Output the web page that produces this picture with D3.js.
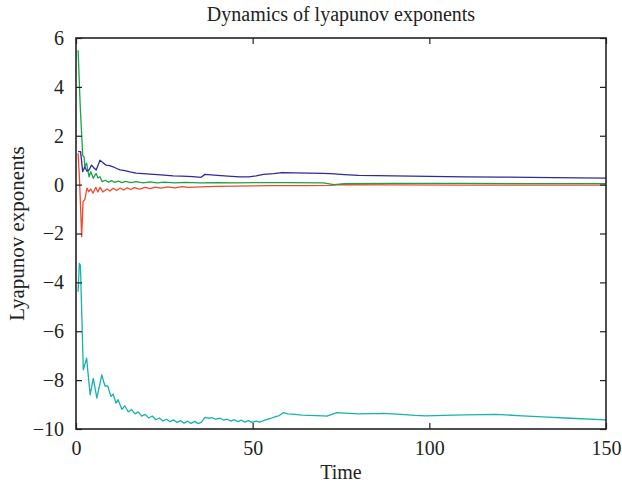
<!DOCTYPE html>
<html>
<head>
<meta charset="utf-8">
<script src="https://cdn.jsdelivr.net/npm/d3@7"></script>
<style>
  body { margin: 0; background: #fff; }
  svg text { font-family: "Liberation Serif", "DejaVu Serif", serif; fill: #222; }
</style>
</head>
<body>
<svg id="chart" width="622" height="487"></svg>
<script>
// Lyapunov exponents, as [time, value]
const blueSeries = [
  [0.6, 1.35], [1.3, 1.35], [1.9, 0.53], [2.5, 0.73], [3.1, 0.55], [3.7, 0.6], [4.4, 0.8],
  [5.1, 0.68], [5.7, 0.6], [6.8, 1.0], [7.6, 0.9], [8.5, 0.8], [9.5, 0.78], [10.5, 0.73],
  [11.5, 0.66], [12.5, 0.6], [13.5, 0.58], [15.3, 0.52], [17, 0.47], [19, 0.45], [21, 0.43],
  [24, 0.4], [27.5, 0.36], [30, 0.35], [33, 0.33], [35.4, 0.3], [36.5, 0.42], [40, 0.38],
  [43, 0.35], [46.4, 0.32], [49, 0.32], [51, 0.36], [53, 0.42], [56, 0.45], [58.2, 0.49],
  [62, 0.48], [66, 0.47], [70, 0.46], [72, 0.45], [76, 0.41], [80, 0.38], [90, 0.36],
  [100, 0.34], [110, 0.32], [120, 0.31], [135, 0.29], [150, 0.27]
];

const greenSeries = [
  [0.6, 5.5], [1.2, 3.2], [1.9, 1.2], [2.3, 1.13], [2.5, 0.73], [3.0, 0.88], [3.7, 0.32],
  [4.2, 0.53], [4.9, 0.26], [5.4, 0.4], [5.7, 0.46], [6.2, 0.27], [6.8, 0.32], [7.4, 0.12],
  [8.3, 0.18], [9.2, 0.1], [10.1, 0.16], [11, 0.09], [12, 0.14], [13, 0.08], [14, 0.13],
  [15.5, 0.08], [17, 0.12], [19, 0.07], [21, 0.11], [23, 0.07], [25, 0.1], [28, 0.07],
  [31, 0.09], [35, 0.07], [40, 0.08], [45, 0.07], [50, 0.08], [60, 0.08], [70, 0.07],
  [73, 0.0], [76, 0.04], [90, 0.05], [110, 0.05], [130, 0.04], [150, 0.04]
];

const redSeries = [
  [0.6, 1.28], [1.0, 0.2], [1.6, -2.13], [2.0, -0.7], [2.5, -0.6], [3.1, -0.14], [3.6, -0.29],
  [4.2, -0.18], [4.8, -0.35], [5.6, -0.11], [6.2, -0.3], [6.8, -0.11], [7.6, -0.3],
  [8.8, -0.18], [9.6, -0.26], [10.5, -0.15], [11.5, -0.24], [12.5, -0.14], [13.5, -0.22],
  [14.5, -0.13], [15.5, -0.2], [16.5, -0.12], [18, -0.18], [19.5, -0.11], [21, -0.16],
  [22.5, -0.1], [24, -0.14], [26, -0.09], [28, -0.13], [30, -0.08], [32, -0.11], [35, -0.09],
  [40, -0.07], [45, -0.06], [50, -0.05], [55, -0.04], [65, -0.04], [72, -0.03], [75, 0.0],
  [90, -0.01], [110, -0.02], [130, -0.02], [150, -0.02]
];

const tealSeries = [
  [0.6, -4.38], [0.95, -3.22], [1.25, -3.3], [2.07, -7.58], [3.0, -7.1], [4.0, -8.6],
  [4.9, -7.93], [5.9, -8.74], [7.3, -7.79], [8.2, -8.24], [9.0, -8.24], [9.9, -8.67],
  [10.5, -8.57], [11.3, -8.94], [11.9, -8.8], [13, -9.2], [13.8, -9.05], [14.8, -9.3],
  [15.7, -9.2], [16.7, -9.38], [17.6, -9.3], [18.6, -9.47], [19.6, -9.4], [20.6, -9.55],
  [21.6, -9.47], [22.6, -9.62], [23.6, -9.55], [24.6, -9.67], [25.6, -9.6], [26.6, -9.7],
  [27.6, -9.63], [28.6, -9.73], [29.6, -9.66], [30.6, -9.76], [31.6, -9.68], [32.6, -9.77],
  [33.6, -9.69], [34.6, -9.78], [35.5, -9.72], [36.5, -9.52], [37.5, -9.56], [38.5, -9.53],
  [39.5, -9.6], [40.8, -9.56], [41.8, -9.64], [42.8, -9.6], [43.8, -9.68], [44.8, -9.62],
  [45.8, -9.7], [46.8, -9.64], [47.8, -9.72], [48.8, -9.66], [49.8, -9.73], [51, -9.68],
  [52, -9.72], [53.5, -9.64], [55, -9.57], [56.3, -9.5], [57.5, -9.45], [58.7, -9.33],
  [60, -9.38], [62, -9.4], [64, -9.43], [66, -9.44], [68, -9.45], [70, -9.46], [71, -9.47],
  [73.8, -9.33], [76, -9.35], [80, -9.38], [84, -9.37], [87, -9.36], [92, -9.4], [96, -9.44],
  [99, -9.46], [104, -9.44], [110, -9.42], [115, -9.41], [119, -9.4], [125, -9.45],
  [132, -9.5], [140, -9.56], [150, -9.63]
];

const seriesList = [
  { data: tealSeries, color: '#17b3aa' },
  { data: redSeries, color: '#f2492b' },
  { data: greenSeries, color: '#17a349' },
  { data: blueSeries, color: '#2e2a98' }
];

const xTicks = [0, 50, 100, 150];
const yTicks = [6, 4, 2, 0, -2, -4, -6, -8, -10];

const titleText = 'Dynamics of lyapunov exponents';
const xLabel = 'Time';
const yLabel = 'Lyapunov exponents';

// Layout
const width = 622;
const height = 487;
const margin = { top: 38, right: 16, bottom: 58, left: 76 };
const innerW = width - margin.left - margin.right;
const innerH = height - margin.top - margin.bottom;

const svg = d3.select('#chart');
const g = svg.append('g').attr('transform', `translate(${margin.left},${margin.top})`);

const x = d3.scaleLinear().domain([0, 150]).range([0, innerW]);
const y = d3.scaleLinear().domain([-10, 6]).range([innerH, 0]);

const fmt = d => d < 0 ? '\u2212' + Math.abs(d) : String(d);

// Lines
const line = d3.line()
  .x(d => x(d[0]))
  .y(d => y(d[1]));

g.selectAll('.series')
  .data(seriesList)
  .join('path')
  .attr('class', 'series')
  .attr('fill', 'none')
  .attr('stroke', d => d.color)
  .attr('stroke-width', 1.3)
  .attr('stroke-linejoin', 'round')
  .attr('d', d => line(d.data));

// Axes: ticks point inward, on all four sides
const tickLen = 6;
g.append('g')
  .attr('transform', `translate(0,${innerH})`)
  .call(d3.axisBottom(x).tickValues(xTicks).tickSizeInner(-tickLen).tickSizeOuter(0).tickPadding(12).tickFormat(fmt));
g.append('g')
  .call(d3.axisTop(x).tickValues(xTicks).tickSizeInner(-tickLen).tickSizeOuter(0).tickFormat(''));
g.append('g')
  .call(d3.axisLeft(y).tickValues(yTicks).tickSizeInner(-tickLen).tickSizeOuter(0).tickPadding(12).tickFormat(fmt));
g.append('g')
  .attr('transform', `translate(${innerW},0)`)
  .call(d3.axisRight(y).tickValues(yTicks).tickSizeInner(-tickLen).tickSizeOuter(0).tickFormat(''));

g.selectAll('.domain').remove();
g.selectAll('.tick line').attr('stroke', '#222').attr('stroke-width', 1.2);
g.selectAll('.tick text')
  .style('font-family', '"Liberation Serif", "DejaVu Serif", serif')
  .style('font-size', '20px')
  .style('fill', '#222');

// Frame
g.append('rect')
  .attr('width', innerW)
  .attr('height', innerH)
  .attr('fill', 'none')
  .attr('stroke', '#222')
  .attr('stroke-width', 1.6);

// Titles
svg.append('text')
  .attr('x', margin.left + innerW / 2)
  .attr('y', 21)
  .attr('text-anchor', 'middle')
  .attr('font-size', 20)
  .text(titleText);

svg.append('text')
  .attr('x', margin.left + innerW / 2)
  .attr('y', 479)
  .attr('text-anchor', 'middle')
  .attr('font-size', 20)
  .text(xLabel);

svg.append('text')
  .attr('transform', `translate(24,${margin.top + innerH / 2}) rotate(-90)`)
  .attr('text-anchor', 'middle')
  .attr('font-size', 21)
  .text(yLabel);
</script>
</body>
</html>
